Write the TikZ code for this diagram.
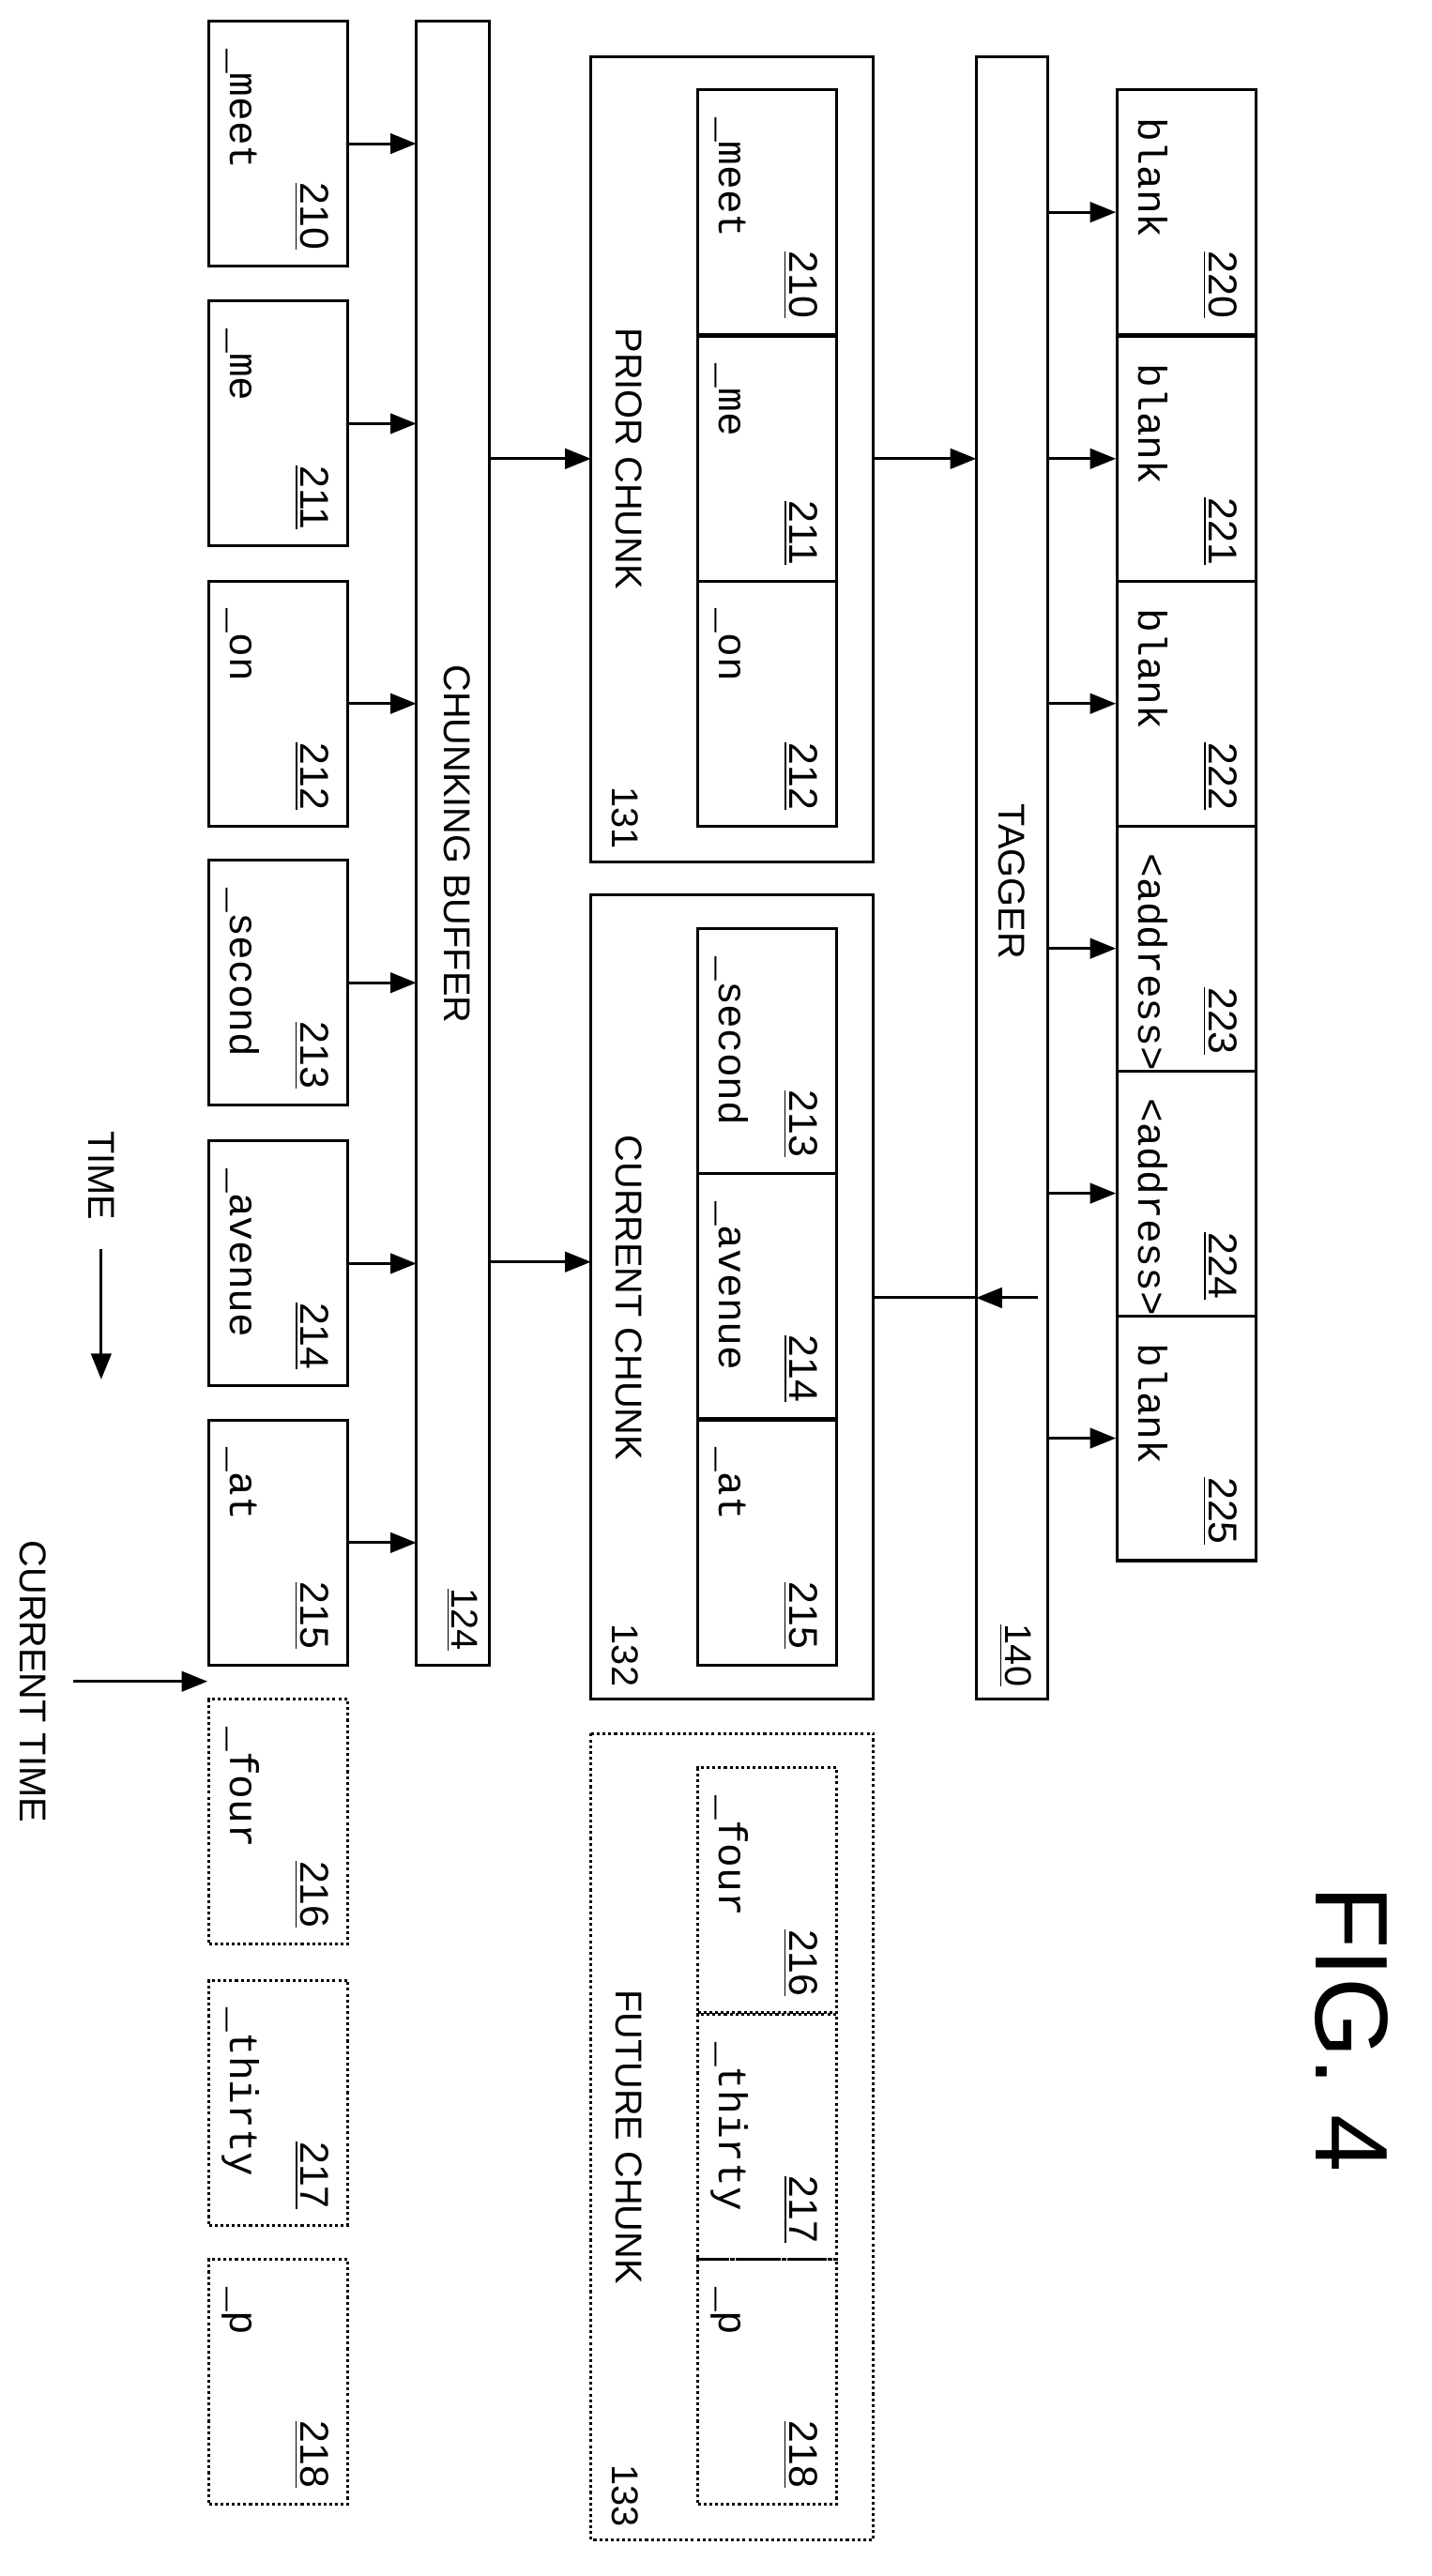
\documentclass[tikz,border=0pt]{standalone}
\usepackage{fontspec}
\setmainfont{Liberation Sans}
\newfontfamily\monofont{Liberation Mono}
\usetikzlibrary{arrows.meta}

\newcommand{\tok}[6]{%
  \node[#6] (#1) at (#2,#3) {};
  \node[tokword] at ([shift={(14,17)}]#1.north west) {#4};
  \node[toknum] at ([shift={(57,-10)}]#1.south west) {\underline{#5}};
}

\begin{document}
\begin{tikzpicture}[x=0.2mm,y=-0.2mm,>={Triangle[length=9pt,width=7pt]},line width=1pt]
\tikzstyle{tokbox}=[draw,rectangle,minimum width=17mm,minimum height=30mm,inner sep=0pt]
\tikzstyle{futbox}=[tokbox,densely dotted]
\tikzstyle{tokword}=[rotate=-90,anchor=base west,font=\monofont\fontsize{14}{14}\selectfont,inner sep=0pt]
\tikzstyle{toknum}=[rotate=-90,anchor=base east,font=\fontsize{14}{14}\selectfont,inner sep=0pt]
\tikzstyle{biglabel}=[rotate=-90,font=\fontsize{13}{13}\selectfont,inner sep=0pt]
\tikzstyle{every node}=[inner sep=0pt]
\useasboundingbox (0,0) rectangle (877,1578);

% input tokens
\tok{a0}{170.5}{88}{\_meet}{210}{tokbox}
\tok{a1}{170.5}{259.5}{\_me}{211}{tokbox}
\tok{a2}{170.5}{431}{\_on}{212}{tokbox}
\tok{a3}{170.5}{602}{\_second}{213}{tokbox}
\tok{a4}{170.5}{774}{\_avenue}{214}{tokbox}
\tok{a5}{170.5}{945}{\_at}{215}{tokbox}
\tok{a6}{170.5}{1116}{\_four}{216}{futbox}
\tok{a7}{170.5}{1288}{\_thirty}{217}{futbox}
\tok{a8}{170.5}{1459}{\_p}{218}{futbox}

% chunking buffer
\draw (255,13) rectangle (300,1020);
\node[biglabel] at (280,517) {CHUNKING BUFFER};
\node[biglabel,anchor=east] at (283,1012) {\underline{124}};
\foreach \i/\y in {0/88,1/259.5,2/431,3/602,4/774,5/945}
  \draw[->] (a\i.east) -- (255,\y);

% chunks
\draw (362,35) rectangle (535,528);
\draw (362,548) rectangle (535,1041);
\draw[densely dotted] (362,1062) rectangle (535,1556);
\node[biglabel] at (385,281) {PRIOR CHUNK};
\node[biglabel] at (385,795) {CURRENT CHUNK};
\node[biglabel] at (385,1309) {FUTURE CHUNK};
\node[biglabel,anchor=east] at (383,521) {131};
\node[biglabel,anchor=east] at (383,1034) {132};
\node[biglabel,anchor=east] at (383,1549) {133};
\tok{p0}{470}{130}{\_meet}{210}{tokbox}
\tok{p1}{470}{281}{\_me}{211}{tokbox}
\tok{p2}{470}{431}{\_on}{212}{tokbox}
\tok{c0}{470}{644}{\_second}{213}{tokbox}
\tok{c1}{470}{794}{\_avenue}{214}{tokbox}
\tok{c2}{470}{945}{\_at}{215}{tokbox}
\tok{f0}{470}{1158}{\_four}{216}{futbox}
\tok{f1}{470}{1309}{\_thirty}{217}{futbox}
\tok{f2}{470}{1459}{\_p}{218}{futbox}
\draw[->] (300,281) -- (362,281);
\draw[->] (300,773) -- (362,773);

% tagger
\draw (598,35) rectangle (642,1041);
\node[biglabel] at (620,540) {TAGGER};
\node[biglabel,anchor=east] at (622,1034) {\underline{140}};
\draw[->] (535,281) -- (598,281);
\coordinate (tagin) at (636,795);
\draw (535,795) -- (598,795);
\draw[->] (tagin) -- (598,795);

% tags
\tok{t0}{727}{130}{blank}{220}{tokbox}
\tok{t1}{727}{281}{blank}{221}{tokbox}
\tok{t2}{727}{431}{blank}{222}{tokbox}
\tok{t3}{727}{581}{<address>}{223}{tokbox}
\tok{t4}{727}{731}{<address>}{224}{tokbox}
\tok{t5}{727}{881}{blank}{225}{tokbox}
\foreach \i/\y in {0/130,1/281,2/431,3/581,4/731,5/881}
  \draw[->] (642,\y) -- (t\i.west);

% time
\node[biglabel] (time) at (62,720) {TIME};
\draw[->] (62,765) -- (62,845);
\node[biglabel] (now) at (20,1030) {CURRENT TIME};
\draw[->] (45,1030) -- (a6.west |- 45,1030);
\node[rotate=-90,font=\fontsize{36}{36}\selectfont] at (828,1243) {FIG. 4};
\end{tikzpicture}
\end{document}
